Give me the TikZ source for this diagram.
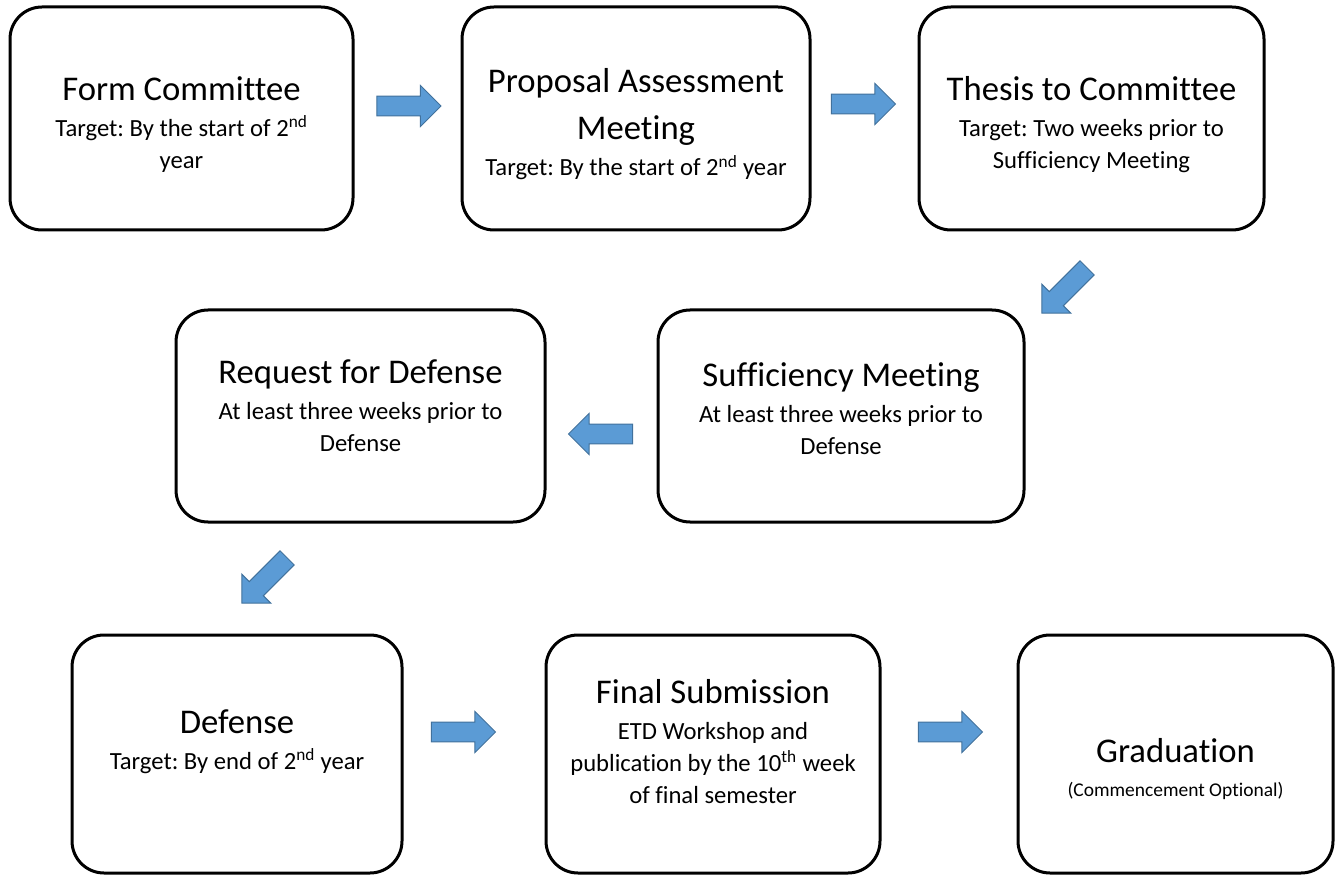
\documentclass[tikz,border=0pt]{standalone}
\usepackage{fontspec}
\setmainfont{Carlito}[Ligatures=NoCommon]
\usetikzlibrary{shapes.arrows}
\definecolor{arrowfill}{HTML}{5B9BD5}
\definecolor{arrowline}{HTML}{41719C}
\newcommand\titlef{\fontsize{26}{35}\selectfont}
\newcommand\subf{\fontsize{18.5}{24}\selectfont}
\newcommand\smallsubf{\fontsize{14.6}{20}\selectfont}
\newcommand\firstline{\rule{0pt}{22pt}}
\frenchspacing
\tikzset{
  stagebox/.style={draw=black, line width=2.25pt, rounded corners=24pt, inner sep=0pt},
  stagetext/.style={anchor=north, inner sep=0pt, align=center, font=\subf},
  blockarrow/.style={single arrow, draw=arrowline, fill=arrowfill, line width=0.75pt,
    minimum height=48pt, minimum width=30pt, inner xsep=0pt, inner ysep=7.1pt,
    single arrow head extend=7.9pt, single arrow tip angle=90},
}
\begin{document}
\begin{tikzpicture}[x=0.75pt,y=-0.75pt]
\useasboundingbox (0,0) rectangle (1339,877);
% boxes
\node[stagebox, minimum width=257.25pt, minimum height=167.25pt] (fc) at (181.5,118.5) {};
\node[stagebox, minimum width=261pt, minimum height=167.25pt] (pa) at (636,118.5) {};
\node[stagebox, minimum width=258.75pt, minimum height=167.25pt] (tc) at (1091.5,118.5) {};
\node[stagebox, minimum width=276.75pt, minimum height=159pt] (rd) at (360.5,416) {};
\node[stagebox, minimum width=274.5pt, minimum height=159pt] (sm) at (841,416) {};
\node[stagebox, minimum width=247.5pt, minimum height=178.5pt] (df) at (237,754) {};
\node[stagebox, minimum width=250.5pt, minimum height=178.5pt] (fs) at (713,754) {};
\node[stagebox, minimum width=236.25pt, minimum height=178.5pt] (gr) at (1175.5,754) {};
% texts
\node[stagetext] (fct) at (181.5,70.67) {\firstline{\titlef Form Committee}\\[3pt]Target: By the start of 2\textsuperscript{nd}\\year};
\node[stagetext] (pat) at (636,63.17) {\firstline{\titlef Proposal Assessment}\\[11pt]{\titlef Meeting}\\[3pt]Target: By the start of 2\textsuperscript{nd} year};
\node[stagetext] (tct) at (1091.5,70.67) {\firstline{\titlef Thesis to Committee}\\[3pt]Target: Two weeks prior to\\Sufficiency Meeting};
\node[stagetext] (rdt) at (360.5,353.67) {\firstline{\titlef Request for Defense}\\[3pt]At least three weeks prior to\\Defense};
\node[stagetext] (smt) at (841,356.67) {\firstline{\titlef Sufficiency Meeting}\\[3pt]At least three weeks prior to\\Defense};
\node[stagetext] (dft) at (237,703.67) {\firstline{\titlef Defense}\\[3pt]Target: By end of 2\textsuperscript{nd} year};
\node[stagetext] (fst) at (713,673.67) {\firstline{\titlef Final Submission}\\[3pt]ETD Workshop and\\publication by the 10\textsuperscript{th} week\\of final semester};
\node[stagetext] (grt) at (1175.5,732.67) {\firstline{\titlef Graduation}\\[1.5pt]{\smallsubf (Commencement Optional)}};
% arrows
\node[blockarrow] (a1) at (404,106) {};
\node[blockarrow] (a2) at (858.5,104) {};
\node[blockarrow, rotate=225] (a3) at (1068,287) {};
\node[blockarrow, rotate=180] (a4) at (605.5,434) {};
\node[blockarrow, rotate=225] (a5) at (268,577) {};
\node[blockarrow] (a6) at (458.5,732) {};
\node[blockarrow] (a7) at (945.5,732) {};
\end{tikzpicture}
\end{document}
